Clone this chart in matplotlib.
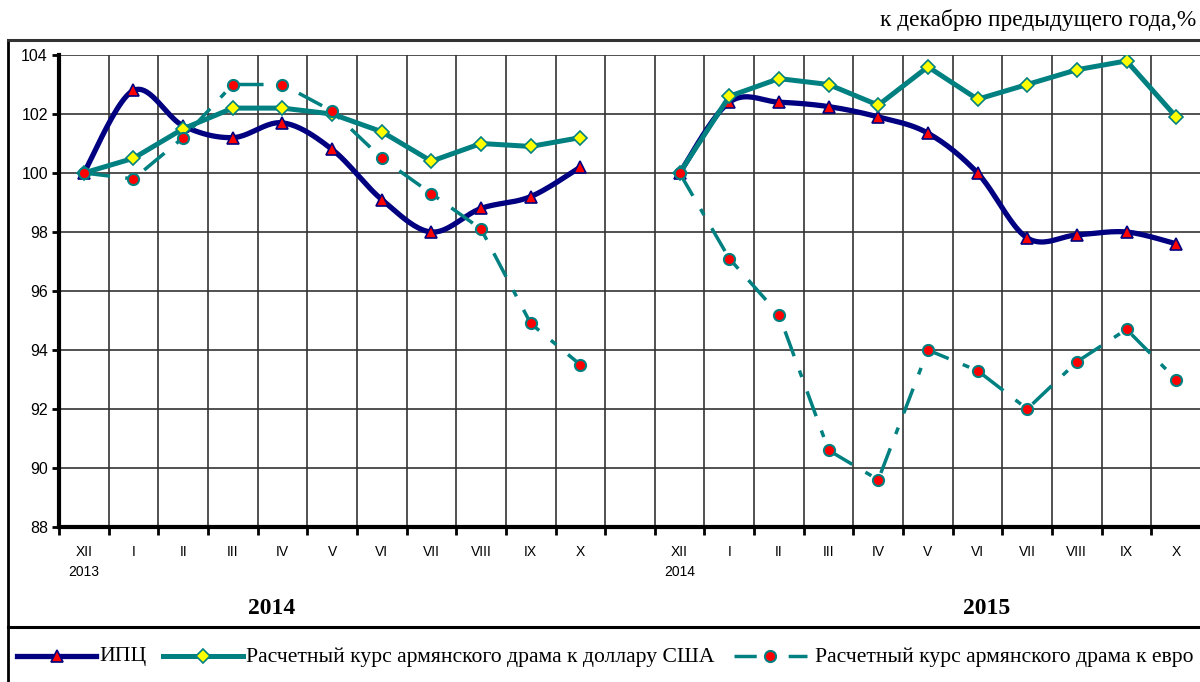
import numpy as np
import matplotlib
matplotlib.use("Agg")
import matplotlib.pyplot as plt
from matplotlib.lines import Line2D

plt.rcParams['lines.scale_dashes'] = False

# ---------------- data ----------------
months = ["XII\n2013", "I", "II", "III", "IV", "V", "VI", "VII", "VIII", "IX", "X",
          "XII\n2014", "I", "II", "III", "IV", "V", "VI", "VII", "VIII", "IX", "X"]
cpi_2014 = [100.0, 102.8, 101.6, 101.2, 101.7, 100.8, 99.1, 98.0, 98.8, 99.2, 100.2]
cpi_2015 = [100.0, 102.4, 102.4, 102.25, 101.9, 101.35, 100.0, 97.8, 97.9, 98.0, 97.6]
usd_2014 = [100.0, 100.5, 101.5, 102.2, 102.2, 102.0, 101.4, 100.4, 101.0, 100.9, 101.2]
usd_2015 = [100.0, 102.6, 103.2, 103.0, 102.3, 103.6, 102.5, 103.0, 103.5, 103.8, 101.9]
eur_2014 = [100.0, 99.8, 101.2, 103.0, 103.0, 102.1, 100.5, 99.3, 98.1, 94.9, 93.5]
eur_2015 = [100.0, 97.1, 95.2, 90.6, 89.6, 94.0, 93.3, 92.0, 93.6, 94.7, 93.0]
year_labels = ["2014", "2015"]
legend_labels = ["ИПЦ", "Расчетный курс армянского драма к доллару США",
                 "Расчетный курс армянского драма к евро"]
subtitle = "к декабрю предыдущего года,%"

NAVY = "#000080"
TEAL = "#008080"
RED = "#FF0000"
YEL = "#FFFF00"
EUR_DASH = (19, 11, 5, 11)

W, H = 1200, 682
fig = plt.figure(figsize=(12, 6.82), dpi=100)


def fx(px):
    return px / W


def fy(py):
    return 1 - py / H


left, right, top, bottom = 59, 1201, 55, 527
ax = fig.add_axes([fx(left), fy(bottom), fx(right) - fx(left), fy(top) - fy(bottom)])

x1 = np.arange(0, 11)
x2 = np.arange(12, 23)


def smooth(x, y, n=24):
    x = np.asarray(x, float)
    y = np.asarray(y, float)
    P = np.column_stack([x, y])
    P = np.vstack([P[0], P, P[-1]])
    out = []
    for i in range(1, len(P) - 2):
        p0, p1, p2, p3 = P[i - 1], P[i], P[i + 1], P[i + 2]
        c1 = p1 + (p2 - p0) / 6.0
        c2 = p2 - (p3 - p1) / 6.0
        t = np.linspace(0, 1, n)[:, None]
        seg = (1 - t) ** 3 * p1 + 3 * (1 - t) ** 2 * t * c1 + 3 * (1 - t) * t ** 2 * c2 + t ** 3 * p2
        out.append(seg if i == 1 else seg[1:])
    s = np.vstack(out)
    return s[:, 0], s[:, 1]


for xs, cpi, usd, eur in [(x1, cpi_2014, usd_2014, eur_2014), (x2, cpi_2015, usd_2015, eur_2015)]:
    sx, sy = smooth(xs, cpi)
    ax.plot(sx, sy, color=NAVY, lw=3.8, zorder=3, solid_capstyle='round')
    ax.plot(xs, cpi, ls='none', marker='^', ms=9, mfc=RED, mec=NAVY, mew=1.2, zorder=4)
    ax.plot(xs, usd, color=TEAL, lw=3.6, marker='D', ms=7, mfc=YEL, mec=TEAL, mew=1.2, zorder=5)
    ax.plot(xs, eur, color=TEAL, lw=2.5, dashes=EUR_DASH, zorder=6)
    ax.plot(xs, eur, ls='none', marker='o', ms=8, mfc=RED, mec=TEAL, mew=1.5, zorder=7)

ax.set_xlim(-0.5, 22.5)
ax.set_ylim(88, 104)
ax.set_yticks(np.arange(88, 105, 2))
ax.set_yticklabels([str(v) for v in range(88, 105, 2)], fontsize=11.5, family="Liberation Sans")

ticks = list(x1) + list(x2)
ax.set_xticks(ticks)
ax.set_xticklabels(months, fontsize=10, family="Liberation Sans", linespacing=1.5, va='top')
ax.set_xticks(np.arange(-0.5, 23, 1), minor=True)
ax.tick_params(axis='x', which='major', length=0, pad=13)
ax.tick_params(axis='x', which='minor', length=6, width=2, direction='out')
ax.tick_params(axis='y', length=5, width=2, direction='out', pad=3)

ax.grid(False)
for v in range(88, 105, 2):
    ax.axhline(v, color="#333333", lw=1.2, zorder=1)
for b in np.arange(-0.5, 23, 1):
    ax.axvline(b, color="#333333", lw=1.2, zorder=1)

for s in ['top', 'right']:
    ax.spines[s].set_visible(False)
ax.spines['left'].set_linewidth(3)
ax.spines['bottom'].set_linewidth(3)

# overlay for frame, texts, legend
ov = fig.add_axes([0, 0, 1, 1], zorder=-1)
ov.set_xlim(0, W)
ov.set_ylim(H, 0)
ov.axis('off')
ov.plot([8, 8], [40, 690], color='black', lw=2)
ov.plot([8, 1210], [40, 40], color='#333333', lw=2.2)
ov.plot([8, 1210], [627, 627], color='black', lw=2.2)

serif = "Liberation Serif"
ov.text(1196, 20, subtitle, ha='right', va='center', fontsize=16.8, family=serif)
ov.text(272, 608, year_labels[0], ha='center', va='center', fontsize=17, family=serif, weight='bold')
ov.text(987, 608, year_labels[1], ha='center', va='center', fontsize=17, family=serif, weight='bold')

ly = 656
fs_leg = 15.6
ov.add_line(Line2D([17, 96], [ly, ly], color=NAVY, lw=3.8))
ov.plot([57], [ly], ls='none', marker='^', ms=9, mfc=RED, mec=NAVY, mew=1.2)
ov.text(99, ly + 1, legend_labels[0], ha='left', va='center', fontsize=fs_leg, family=serif)
ov.add_line(Line2D([163, 243], [ly, ly], color=TEAL, lw=3.6))
ov.plot([203], [ly], ls='none', marker='D', ms=7, mfc=YEL, mec=TEAL, mew=1.2)
ov.text(246, ly + 1, legend_labels[1], ha='left', va='center', fontsize=fs_leg, family=serif)
ov.add_line(Line2D([734, 807], [ly, ly], color=TEAL, lw=2.5, dashes=(16, 9, 5, 9)))
ov.plot([770], [ly], ls='none', marker='o', ms=8, mfc=RED, mec=TEAL, mew=1.5)
ov.text(815, ly + 1, legend_labels[2], ha='left', va='center', fontsize=fs_leg, family=serif)

fig.savefig("out.png", dpi=100)
